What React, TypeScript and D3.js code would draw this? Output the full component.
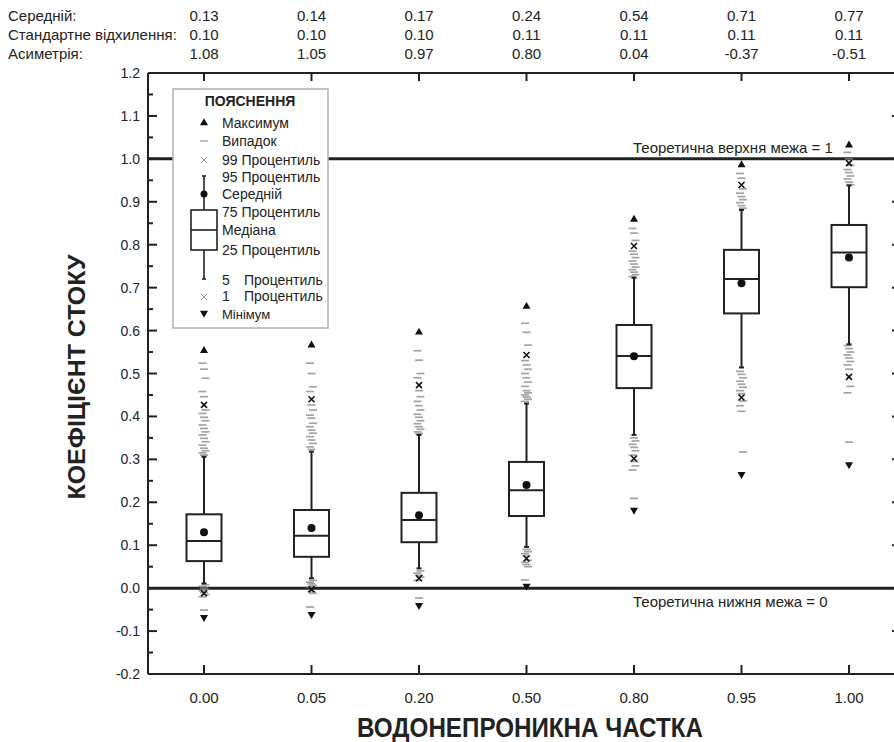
import * as d3 from 'd3'

const categories = ['0.00', '0.05', '0.20', '0.50', '0.80', '0.95', '1.00'];
const meanValues = [0.13, 0.14, 0.17, 0.24, 0.54, 0.71, 0.77];
const sdValues = [0.10, 0.10, 0.10, 0.11, 0.11, 0.11, 0.11];
const skewValues = [1.08, 1.05, 0.97, 0.80, 0.04, -0.37, -0.51];

const minValues = [-0.068, -0.061, -0.040, 0.005, 0.182, 0.265, 0.288];
const p1Values = [-0.012, -0.003, 0.023, 0.069, 0.302, 0.444, 0.492];
const p5Values = [0.011, 0.023, 0.046, 0.096, 0.357, 0.514, 0.568];
const q1Values = [0.063, 0.073, 0.107, 0.168, 0.466, 0.640, 0.701];
const medianValues = [0.110, 0.122, 0.159, 0.228, 0.541, 0.720, 0.782];
const q3Values = [0.172, 0.182, 0.222, 0.294, 0.613, 0.788, 0.846];
const p95Values = [0.306, 0.318, 0.357, 0.430, 0.723, 0.881, 0.938];
const p99Values = [0.427, 0.440, 0.473, 0.543, 0.797, 0.939, 0.990];
const maxValues = [0.553, 0.566, 0.596, 0.656, 0.859, 0.986, 1.032];

// individual cases beyond the whiskers
const upperCases = [
  [0.524, 0.510, 0.489, 0.458, 0.446, 0.415, 0.407, 0.398, 0.390, 0.380, 0.372, 0.364, 0.357, 0.349, 0.341, 0.333, 0.326, 0.320, 0.315, 0.310],
  [0.524, 0.500, 0.469, 0.458, 0.427, 0.415, 0.403, 0.396, 0.384, 0.376, 0.368, 0.361, 0.353, 0.345, 0.337, 0.329, 0.323],
  [0.553, 0.531, 0.500, 0.490, 0.460, 0.446, 0.435, 0.425, 0.415, 0.405, 0.398, 0.390, 0.383, 0.376, 0.370, 0.364, 0.360],
  [0.617, 0.596, 0.566, 0.530, 0.520, 0.510, 0.500, 0.490, 0.480, 0.470, 0.460, 0.455, 0.450, 0.445, 0.440, 0.435],
  [0.838, 0.827, 0.810, 0.785, 0.778, 0.770, 0.762, 0.755, 0.748, 0.742, 0.736, 0.730, 0.726],
  [0.966, 0.955, 0.930, 0.920, 0.912, 0.905, 0.898, 0.891, 0.885],
  [1.015, 1.000, 0.985, 0.975, 0.968, 0.960, 0.953, 0.946, 0.940],
];
const lowerCases = [
  [0.008, 0.004, 0.000, -0.003, -0.006, -0.010, -0.015, -0.020, -0.051],
  [0.018, 0.014, 0.010, 0.006, 0.002, -0.008, -0.012, -0.044],
  [0.040, 0.035, 0.030, 0.026, 0.018, -0.023],
  [0.090, 0.085, 0.080, 0.075, 0.065, 0.060, 0.055, 0.050, 0.019],
  [0.350, 0.343, 0.335, 0.328, 0.320, 0.310, 0.295, 0.285, 0.275, 0.209],
  [0.505, 0.498, 0.490, 0.482, 0.475, 0.468, 0.460, 0.453, 0.436, 0.425, 0.412, 0.317],
  [0.565, 0.558, 0.550, 0.543, 0.536, 0.528, 0.520, 0.510, 0.470, 0.455, 0.340],
];

const statRows = [
  {label: 'Середній:', values: meanValues},
  {label: 'Стандартне відхилення:', values: sdValues},
  {label: 'Асиметрія:', values: skewValues},
];

const FONT = "'Liberation Sans', Arial, sans-serif";
const INK = '#222';

const width = 894;
const height = 742;
const plot = {left: 148, right: 901, top: 73, bottom: 674};

const x = d3.scalePoint<string>().domain(categories).range([204, 849]);
const y = d3.scaleLinear().domain([-0.2, 1.2]).range([plot.bottom, plot.top]);

const boxWidth = 35;
const triUp = d3.symbol(d3.symbolTriangle, 28)() as string;
const cross = 'M-3,-3L3,3M-3,3L3,-3';

const App = () => {
  const majorTicks = d3.range(-2, 13).map(i => i / 10);
  const minorTicks = d3.range(-2, 12).map(i => i / 10 + 0.05);

  // legend layout
  const lx = 204;
  const legendItems: [string, number][] = [
    ['Максимум', 123], ['Випадок', 141], ['99 Процентиль', 160], ['95 Процентиль', 177],
    ['Середній', 194], ['75 Процентиль', 212], ['Медіана', 230], ['25 Процентиль', 250],
  ];

  return (
    <svg width={width} height={height} style={{position: 'absolute', left: 0, top: 0}}>
      {/* stats table */}
      <g fontFamily={FONT} fontSize={15} fill={INK}>
        {statRows.map((row, r) => (
          <g key={row.label}>
            <text x={8} y={21 + r * 19}>{row.label}</text>
            {row.values.map((v, i) => (
              <text key={i} x={x(categories[i])} y={21 + r * 19} textAnchor="middle">{v.toFixed(2)}</text>
            ))}
          </g>
        ))}
      </g>

      {/* frame */}
      <g stroke={INK} strokeWidth={2} fill="none">
        <line x1={plot.left} x2={plot.right} y1={plot.top} y2={plot.top} />
        <line x1={plot.left} x2={plot.right} y1={plot.bottom} y2={plot.bottom} />
        <line x1={plot.left} x2={plot.left} y1={plot.top} y2={plot.bottom} />
        <line x1={plot.right} x2={plot.right} y1={plot.top} y2={plot.bottom} />
        {majorTicks.map(t => (
          <g key={t}>
            <line x1={plot.left} x2={plot.left + 9} y1={y(t)} y2={y(t)} />
            <line x1={plot.right} x2={plot.right - 9} y1={y(t)} y2={y(t)} />
          </g>
        ))}
        {minorTicks.map(t => (
          <line key={t} x1={plot.left} x2={plot.left + 5} y1={y(t)} y2={y(t)} />
        ))}
        {categories.map(c => (
          <g key={c}>
            <line x1={x(c)} x2={x(c)} y1={plot.bottom} y2={plot.bottom - 9} />
            <line x1={x(c)} x2={x(c)} y1={plot.top} y2={plot.top + 8} />
          </g>
        ))}
      </g>

      {/* y tick labels */}
      <g fontFamily={FONT} fontSize={14} fill={INK} textAnchor="end">
        {majorTicks.map(t => (
          <text key={t} x={140} y={y(t) + 5}>{t.toFixed(1)}</text>
        ))}
      </g>

      {/* x tick labels */}
      <g fontFamily={FONT} fontSize={15} fill={INK} textAnchor="middle">
        {categories.map(c => (
          <text key={c} x={x(c)} y={703}>{c}</text>
        ))}
      </g>

      {/* theoretical bounds */}
      <g stroke={INK} strokeWidth={3}>
        <line x1={plot.left} x2={plot.right} y1={y(1)} y2={y(1)} />
        <line x1={plot.left} x2={plot.right} y1={y(0)} y2={y(0)} />
      </g>
      <g fontFamily={FONT} fontSize={15} fill={INK}>
        <text x={633} y={y(1) - 6}>Теоретична верхня межа = 1</text>
        <text x={633} y={y(0) + 19}>Теоретична нижня межа = 0</text>
      </g>

      {/* boxes */}
      {categories.map((c, i) => {
        const cx = x(c) as number;
        return (
          <g key={c}>
            <g stroke="#858585" strokeWidth={1.7} opacity={0.75}>
              {[...upperCases[i], ...lowerCases[i]].map((v, k) => {
                const dx = ((k % 3) - 1) * 1.5;
                return <line key={k} x1={cx - 4 + dx} x2={cx + 4 + dx} y1={y(v)} y2={y(v)} />;
              })}
            </g>
            <g stroke={INK} strokeWidth={2} fill="none">
              <line x1={cx} x2={cx} y1={y(p95Values[i])} y2={y(q3Values[i])} />
              <line x1={cx} x2={cx} y1={y(q1Values[i])} y2={y(p5Values[i])} />
              <line x1={cx - 2.5} x2={cx + 2.5} y1={y(p95Values[i])} y2={y(p95Values[i])} />
              <line x1={cx - 2.5} x2={cx + 2.5} y1={y(p5Values[i])} y2={y(p5Values[i])} />
              <rect x={cx - boxWidth / 2} y={y(q3Values[i])} width={boxWidth}
                height={y(q1Values[i]) - y(q3Values[i])} fill="white" />
              <line x1={cx - boxWidth / 2} x2={cx + boxWidth / 2} y1={y(medianValues[i])} y2={y(medianValues[i])} />
            </g>
            <circle cx={cx} cy={y(meanValues[i])} r={4} fill="#111" />
            <g stroke="#111" strokeWidth={1.6}>
              <path d={cross} transform={`translate(${cx},${y(p99Values[i])})`} />
              <path d={cross} transform={`translate(${cx},${y(p1Values[i])})`} />
            </g>
            <path d={triUp} fill="#111" transform={`translate(${cx},${y(maxValues[i])})`} />
            <path d={triUp} fill="#111" transform={`translate(${cx},${y(minValues[i])}) rotate(180)`} />
          </g>
        );
      })}

      {/* legend */}
      <g>
        <rect x={173} y={89} width={155} height={239} fill="white" stroke="#b0b0b0" strokeWidth={1.5} />
        <text x={250} y={106} textAnchor="middle" fontFamily={FONT} fontWeight="bold" fontSize={14} fill={INK}>ПОЯСНЕННЯ</text>
        <path d={triUp} fill="#111" transform={`translate(${lx},123)`} />
        <line x1={lx - 4} x2={lx + 4} y1={141} y2={141} stroke="#aaa" strokeWidth={1.5} />
        <path d={cross} stroke="#999" strokeWidth={1} transform={`translate(${lx},160)`} />
        <g stroke={INK} strokeWidth={1.6} fill="none">
          <line x1={lx} x2={lx} y1={176} y2={210} />
          <line x1={lx} x2={lx} y1={250} y2={279} />
          <line x1={lx - 2} x2={lx + 2} y1={176} y2={176} />
          <line x1={lx - 2} x2={lx + 2} y1={279} y2={279} />
          <rect x={191} y={210} width={26} height={40} fill="white" />
          <line x1={191} x2={217} y1={230} y2={230} />
        </g>
        <circle cx={lx} cy={194} r={3.5} fill="#111" />
        <path d={cross} stroke="#999" strokeWidth={1} transform={`translate(${lx},297)`} />
        <path d={triUp} fill="#111" transform={`translate(${lx},313) rotate(180)`} />
        <g fontFamily={FONT} fontSize={14} fill={INK}>
          {legendItems.map(([t, ly]) => (
            <text key={t} x={222} y={ly + 5}>{t}</text>
          ))}
          <text x={222} y={285}>5</text>
          <text x={244} y={285}>Процентиль</text>
          <text x={222} y={301}>1</text>
          <text x={244} y={301}>Процентиль</text>
        </g>
        <text x={222} y={319} fontFamily={FONT} fontSize={13} fill={INK}>Мінімум</text>
      </g>

      {/* axis titles */}
      <text x={530} y={737} textAnchor="middle" fontFamily={FONT} fontWeight="bold" fontSize={27}
        fill={INK} textLength={346} lengthAdjust="spacingAndGlyphs">
        ВОДОНЕПРОНИКНА ЧАСТКА
      </text>
      <text transform="translate(85,377) rotate(-90)" textAnchor="middle" fontFamily={FONT}
        fontWeight="bold" fontSize={24} fill={INK} textLength={245} lengthAdjust="spacingAndGlyphs">
        КОЕФІЦІЄНТ СТОКУ
      </text>
    </svg>
  );
};

export default App;
